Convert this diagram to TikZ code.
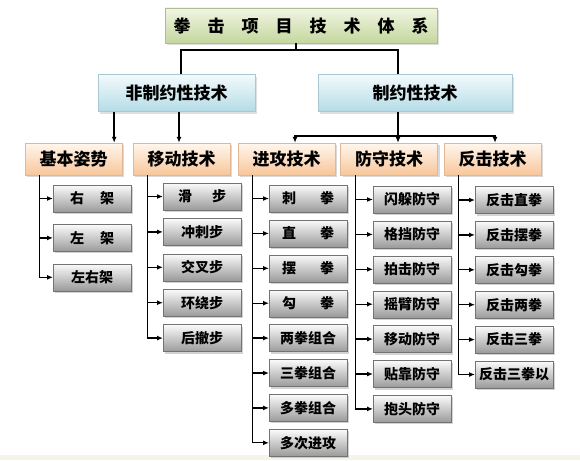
\documentclass[tikz,border=0pt]{standalone}
\usepackage{fontspec}
\newfontfamily\cjk{Noto Sans CJK SC}
\usetikzlibrary{arrows.meta,positioning,shadows}
\definecolor{topgreen}{HTML}{F1F5E4}
\definecolor{botgreen}{HTML}{C4D79E}
\definecolor{topblue}{HTML}{F3FAFC}
\definecolor{botblue}{HTML}{B4DCE7}
\definecolor{toppeach}{HTML}{FFF7EE}
\definecolor{botpeach}{HTML}{F8C69A}
\definecolor{topgray}{HTML}{FBFBFB}
\definecolor{botgray}{HTML}{9A9A9A}
\definecolor{strip}{HTML}{F6F4EA}

\begin{document}
\begin{tikzpicture}[x=1pt, y=-1pt,
  rootbox/.style={draw=botgreen!70!gray, top color=topgreen, bottom color=botgreen, minimum width=272pt, minimum height=35pt, font=\cjk\bfseries\fontsize{17}{20}\selectfont, drop shadow={shadow xshift=2pt, shadow yshift=-2pt, opacity=.25}},
  groupbox/.style={draw=botblue!80!gray, top color=topblue, bottom color=botblue, minimum height=37pt, font=\cjk\bfseries\fontsize{17}{20}\selectfont, drop shadow={shadow xshift=2pt, shadow yshift=-2pt, opacity=.25}},
  catbox/.style={draw=botpeach!80!gray, top color=toppeach, bottom color=botpeach, minimum width=97pt, minimum height=32pt, font=\cjk\bfseries\fontsize{17}{20}\selectfont, drop shadow={shadow xshift=2pt, shadow yshift=-2pt, opacity=.3}},
  leaf/.style={draw=black!55, top color=topgray, bottom color=botgray, minimum width=78pt, minimum height=27pt, inner sep=1pt, font=\cjk\bfseries\fontsize{14}{16}\selectfont, drop shadow={shadow xshift=2pt, shadow yshift=-2pt, opacity=.35}},
  line/.style={line width=1.6pt, black},
  arr/.style={-{Latex[length=6pt,width=5pt]}, line width=1.6pt, black},
  leafarr/.style={-{Latex[length=6pt,width=5pt]}, line width=1.3pt, black}
]
  \useasboundingbox (0,0) rectangle (580,460);
  \fill[strip] (0,455) rectangle (580,460);

  % top and the two groups
  \node[rootbox] (top) at (301,25.5) {拳\quad 击\quad 项\quad 目\quad 技\quad 术\quad 体\quad 系};
  \node[groupbox, minimum width=157pt] (fzy) at (176.5,93) {非制约性技术};
  \node[groupbox, minimum width=194pt] (zy) at (415,93) {制约性技术};

  \coordinate (split) at (296,50);
  \coordinate (fzyin) at (181,50);
  \coordinate (zyin) at (398,50);
  \draw[line] (top.south -| split) -- (split);
  \draw[line] (fzy.north -| fzyin) |- (split) -| (zy.north -| zyin);

  % categories
  \node[catbox] (jb) at (73.5,159) {基本姿势};
  \node[catbox] (yd) at (181.5,159) {移动技术};
  \node[catbox] (jg) at (286.5,159) {进攻技术};
  \node[catbox] (fs) at (389,159) {防守技术};
  \node[catbox] (fj) at (492.5,159) {反击技术};

  \coordinate (jbin) at ([xshift=-8pt]jb.north east);
  \coordinate (ydin) at ([xshift=-2.5pt]yd.north);
  \draw[arr] (fzy.south -| jbin) -- (jbin);
  \draw[arr] (fzy.south -| ydin) -- (ydin);

  \coordinate (split2) at (398,136);
  \coordinate (jgin) at ([xshift=8.5pt]jg.north);
  \coordinate (fsin) at ([xshift=9pt]fs.north);
  \coordinate (fjin) at ([xshift=2.5pt]fj.north);
  \draw[line] (zy.south -| split2) -- (split2);
  \draw[arr] (split2) -| (jgin);
  \draw[arr] (split2) -| (fsin);
  \draw[arr] (split2) -| (fjin);

  % 基本姿势
  \node[leaf, anchor=west] (jb1) at (53,198.5) {右\hspace{16pt}架};
  \node[leaf, below=12pt of jb1] (jb2) {左\hspace{16pt}架};
  \node[leaf, below=12pt of jb2] (jb3) {左右架};

  % 移动技术
  \node[leaf, anchor=west] (yd1) at (163,196.5) {滑\hspace{20pt}步};
  \node[leaf, below=8pt of yd1] (yd2) {冲刺步};
  \node[leaf, below=8pt of yd2] (yd3) {交叉步};
  \node[leaf, below=8pt of yd3] (yd4) {环绕步};
  \node[leaf, below=8pt of yd4] (yd5) {后撤步};

  % 进攻技术
  \node[leaf, anchor=west] (jg1) at (269,198.5) {刺\hspace{24pt}拳};
  \node[leaf, below=7.5pt of jg1] (jg2) {直\hspace{24pt}拳};
  \node[leaf, below=7.5pt of jg2] (jg3) {摆\hspace{24pt}拳};
  \node[leaf, below=7.5pt of jg3] (jg4) {勾\hspace{24pt}拳};
  \node[leaf, below=7.5pt of jg4] (jg5) {两拳组合};
  \node[leaf, below=7.5pt of jg5] (jg6) {三拳组合};
  \node[leaf, below=7.5pt of jg6] (jg7) {多拳组合};
  \node[leaf, below=7.5pt of jg7] (jg8) {多次进攻};

  % 防守技术
  \node[leaf, anchor=west] (fs1) at (373,199.5) {闪躲防守};
  \node[leaf, below=7.5pt of fs1] (fs2) {格挡防守};
  \node[leaf, below=7.5pt of fs2] (fs3) {拍击防守};
  \node[leaf, below=7.5pt of fs3] (fs4) {摇臂防守};
  \node[leaf, below=7.5pt of fs4] (fs5) {移动防守};
  \node[leaf, below=7.5pt of fs5] (fs6) {贴靠防守};
  \node[leaf, below=7.5pt of fs6] (fs7) {抱头防守};

  % 反击技术
  \node[leaf, anchor=west] (fj1) at (475,200) {反击直拳};
  \node[leaf, below=7.5pt of fj1] (fj2) {反击摆拳};
  \node[leaf, below=7.5pt of fj2] (fj3) {反击勾拳};
  \node[leaf, below=7.5pt of fj3] (fj4) {反击两拳};
  \node[leaf, below=7.5pt of fj4] (fj5) {反击三拳};
  \node[leaf, below=7.5pt of fj5] (fj6) {反击三拳以};

  \foreach \cat/\n in {jb/3, yd/5, jg/8, fs/7, fj/6}
    \foreach \i in {1,...,\n}
      \draw[leafarr] ([xshift=15pt]\cat.south west) |- (\cat\i);
\end{tikzpicture}
\end{document}
